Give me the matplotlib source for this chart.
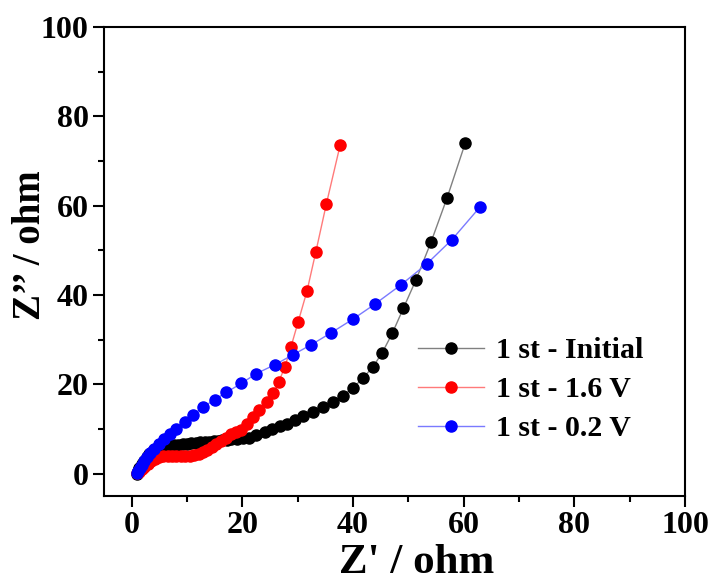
import matplotlib
matplotlib.use("Agg")
import matplotlib.pyplot as plt
from matplotlib.ticker import MultipleLocator

plt.rcParams["font.family"] = ["Liberation Serif", "DejaVu Serif"]
plt.rcParams["font.weight"] = "bold"

# Nyquist data
initial_x = [0.9, 1.1, 1.4, 1.8, 2.2, 2.7, 3.2, 3.8, 4.5, 5.2, 6.0, 6.8, 7.6, 8.4,
             9.2, 10.0, 10.8, 11.6, 12.4, 13.2, 14.0, 14.8, 15.6, 16.4, 17.2, 18.0,
             19.1, 20.2, 21.3, 22.5, 24.1, 25.3, 26.8, 28.0, 29.5, 31.0, 32.8, 34.6,
             36.4, 38.2, 40.0, 41.8, 43.6, 45.3, 47.1, 49.1, 51.4, 54.1, 57.0, 60.3]
initial_y = [0.0, 0.6, 1.3, 2.1, 2.9, 3.7, 4.4, 5.0, 5.5, 5.8, 6.0, 6.2, 6.4, 6.5,
             6.6, 6.7, 6.8, 6.9, 7.0, 7.1, 7.2, 7.3, 7.4, 7.5, 7.6, 7.7,
             7.8, 7.9, 8.1, 8.6, 9.4, 10.0, 10.6, 11.1, 12.1, 13.0, 13.9, 14.9,
             16.1, 17.5, 19.2, 21.4, 23.9, 27.1, 31.4, 37.0, 43.4, 51.8, 61.7, 74.0]

v16_x = [0.9, 1.3, 1.8, 2.3, 2.9, 3.5, 4.2, 4.9, 5.7, 6.5, 7.3, 8.1, 8.9, 9.7,
         10.5, 11.3, 12.1, 12.9, 13.7, 14.5, 15.3, 16.1, 17.0, 17.9, 18.8, 19.8,
         20.8, 21.9, 23.1, 24.4, 25.6, 26.6, 27.7, 28.8, 30.1, 31.7, 33.3, 35.2, 37.7]
v16_y = [0.2, 0.5, 1.0, 1.6, 2.2, 2.8, 3.3, 3.7, 3.9, 4.0, 4.0, 3.9, 3.9, 3.9,
         4.0, 4.2, 4.5, 4.9, 5.4, 6.0, 6.7, 7.4, 8.1, 8.8, 9.3, 9.9,
         11.1, 12.6, 14.3, 16.1, 18.1, 20.6, 23.9, 28.4, 34.0, 40.9, 49.7, 60.4, 73.6]

v02_x = [1.05, 1.2, 1.5, 1.9, 2.3, 2.8, 3.4, 4.1, 4.9, 5.8, 6.9, 8.1, 9.6, 11.1,
         12.9, 15.0, 17.1, 19.8, 22.5, 25.9, 29.1, 32.5, 36.0, 40.0, 43.9, 48.6,
         53.3, 57.9, 62.9]
v02_y = [0.2, 0.6, 1.3, 2.0, 2.8, 3.7, 4.6, 5.6, 6.6, 7.7, 8.9, 10.1, 11.6, 13.2,
         14.9, 16.6, 18.2, 20.2, 22.4, 24.4, 26.6, 28.9, 31.5, 34.6, 37.9, 42.2,
         46.9, 52.4, 59.6]

labels = ["1 st - Initial", "1 st - 1.6 V", "1 st - 0.2 V"]

fig = plt.figure(figsize=(7.12, 5.83), dpi=100)
ax = fig.add_axes([0.146, 0.149, 0.816, 0.805])

ax.plot(initial_x, initial_y, "-o", color="#808080", mfc="black", mec="black",
        lw=1, ms=8, label=labels[0])
ax.plot(v16_x, v16_y, "-o", color="#ff7a7a", mfc="red", mec="red",
        lw=1, ms=8, label=labels[1])
ax.plot(v02_x, v02_y, "-o", color="#7a7aff", mfc="blue", mec="blue",
        lw=1, ms=8, label=labels[2])

ax.set_xlim(-5, 100)
ax.set_ylim(-5, 100)
ax.xaxis.set_major_locator(MultipleLocator(20))
ax.xaxis.set_minor_locator(MultipleLocator(10))
ax.yaxis.set_major_locator(MultipleLocator(20))
ax.yaxis.set_minor_locator(MultipleLocator(10))
ax.tick_params(which="major", direction="out", length=8, width=1.5, labelsize=23, pad=3)
ax.tick_params(which="minor", direction="out", length=4, width=1.5)
for s in ax.spines.values():
    s.set_linewidth(1.5)

ax.set_xlabel("Z' / ohm", fontsize=31, fontweight="bold")
ax.xaxis.set_label_coords(0.539, -0.102)
ax.set_ylabel("Z\u2019\u2019 / ohm", fontsize=28, fontweight="bold")
ax.yaxis.set_label_coords(-0.095, 0.535)

ax.legend(loc="center left", bbox_to_anchor=(0.515, 0.227), frameon=False,
          fontsize=21.5, handlelength=2.2, handletextpad=0.4, labelspacing=0.4,
          borderpad=0, markerscale=1)

fig.savefig("out.png", dpi=100)
